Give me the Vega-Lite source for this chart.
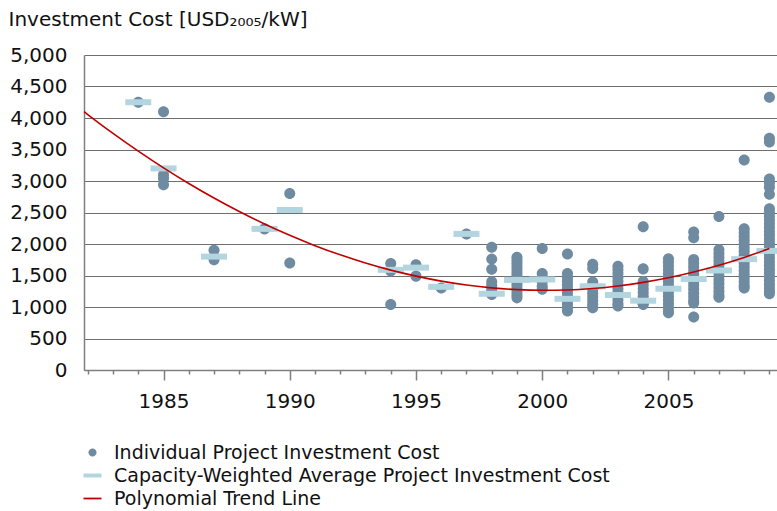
{
  "$schema": "https://vega.github.io/schema/vega-lite/v6.json",
  "width": 693,
  "height": 315,
  "autosize": {"type": "none"},
  "padding": {"left": 84, "top": 55, "right": 0, "bottom": 141},
  "background": "white",
  "config": {
    "font": "DejaVu Sans",
    "view": {"stroke": null},
    "axis": {"labelFont": "DejaVu Sans", "labelColor": "#111111", "labelFontSize": 20, "titleFont": "DejaVu Sans"}
  },
  "datasets": {
    "projects": [
      {"year": 1984, "cost": 4250},
      {"year": 1985, "cost": 4100}, {"year": 1985, "cost": 3100}, {"year": 1985, "cost": 3040}, {"year": 1985, "cost": 2940},
      {"year": 1987, "cost": 1900}, {"year": 1987, "cost": 1750},
      {"year": 1989, "cost": 2240},
      {"year": 1990, "cost": 2800}, {"year": 1990, "cost": 1700},
      {"year": 1994, "cost": 1690}, {"year": 1994, "cost": 1570}, {"year": 1994, "cost": 1040},
      {"year": 1995, "cost": 1670}, {"year": 1995, "cost": 1490},
      {"year": 1996, "cost": 1300},
      {"year": 1997, "cost": 2160},
      {"year": 1998, "cost": 1950}, {"year": 1998, "cost": 1760}, {"year": 1998, "cost": 1600}, {"year": 1998, "cost": 1400}, {"year": 1998, "cost": 1340}, {"year": 1998, "cost": 1280}, {"year": 1998, "cost": 1230}, {"year": 1998, "cost": 1200},
      {"year": 1999, "cost": 1790}, {"year": 1999, "cost": 1740}, {"year": 1999, "cost": 1690}, {"year": 1999, "cost": 1640}, {"year": 1999, "cost": 1590}, {"year": 1999, "cost": 1540}, {"year": 1999, "cost": 1490}, {"year": 1999, "cost": 1440}, {"year": 1999, "cost": 1390}, {"year": 1999, "cost": 1340}, {"year": 1999, "cost": 1290}, {"year": 1999, "cost": 1240}, {"year": 1999, "cost": 1190}, {"year": 1999, "cost": 1145},
      {"year": 2000, "cost": 1930}, {"year": 2000, "cost": 1530}, {"year": 2000, "cost": 1470}, {"year": 2000, "cost": 1400}, {"year": 2000, "cost": 1330}, {"year": 2000, "cost": 1280},
      {"year": 2001, "cost": 1840}, {"year": 2001, "cost": 1530}, {"year": 2001, "cost": 1470}, {"year": 2001, "cost": 1410}, {"year": 2001, "cost": 1350}, {"year": 2001, "cost": 1290}, {"year": 2001, "cost": 1230}, {"year": 2001, "cost": 1170}, {"year": 2001, "cost": 1110}, {"year": 2001, "cost": 1050}, {"year": 2001, "cost": 990}, {"year": 2001, "cost": 935},
      {"year": 2002, "cost": 1680}, {"year": 2002, "cost": 1610}, {"year": 2002, "cost": 1395}, {"year": 2002, "cost": 1340}, {"year": 2002, "cost": 1280}, {"year": 2002, "cost": 1220}, {"year": 2002, "cost": 1160}, {"year": 2002, "cost": 1100}, {"year": 2002, "cost": 1040}, {"year": 2002, "cost": 990},
      {"year": 2003, "cost": 1645}, {"year": 2003, "cost": 1590}, {"year": 2003, "cost": 1530}, {"year": 2003, "cost": 1470}, {"year": 2003, "cost": 1410}, {"year": 2003, "cost": 1350}, {"year": 2003, "cost": 1290}, {"year": 2003, "cost": 1230}, {"year": 2003, "cost": 1170}, {"year": 2003, "cost": 1110}, {"year": 2003, "cost": 1050}, {"year": 2003, "cost": 1015},
      {"year": 2004, "cost": 2275}, {"year": 2004, "cost": 1605}, {"year": 2004, "cost": 1405}, {"year": 2004, "cost": 1350}, {"year": 2004, "cost": 1290}, {"year": 2004, "cost": 1230}, {"year": 2004, "cost": 1170}, {"year": 2004, "cost": 1110}, {"year": 2004, "cost": 1050}, {"year": 2004, "cost": 1040},
      {"year": 2005, "cost": 1765}, {"year": 2005, "cost": 1710}, {"year": 2005, "cost": 1650}, {"year": 2005, "cost": 1590}, {"year": 2005, "cost": 1530}, {"year": 2005, "cost": 1470}, {"year": 2005, "cost": 1410}, {"year": 2005, "cost": 1350}, {"year": 2005, "cost": 1290}, {"year": 2005, "cost": 1230}, {"year": 2005, "cost": 1170}, {"year": 2005, "cost": 1110}, {"year": 2005, "cost": 1050}, {"year": 2005, "cost": 990}, {"year": 2005, "cost": 930}, {"year": 2005, "cost": 910},
      {"year": 2006, "cost": 2190}, {"year": 2006, "cost": 2100}, {"year": 2006, "cost": 1755}, {"year": 2006, "cost": 1700}, {"year": 2006, "cost": 1640}, {"year": 2006, "cost": 1580}, {"year": 2006, "cost": 1520}, {"year": 2006, "cost": 1460}, {"year": 2006, "cost": 1400}, {"year": 2006, "cost": 1340}, {"year": 2006, "cost": 1280}, {"year": 2006, "cost": 1220}, {"year": 2006, "cost": 1160}, {"year": 2006, "cost": 1100}, {"year": 2006, "cost": 1065}, {"year": 2006, "cost": 840},
      {"year": 2007, "cost": 2435}, {"year": 2007, "cost": 1910}, {"year": 2007, "cost": 1850}, {"year": 2007, "cost": 1790}, {"year": 2007, "cost": 1730}, {"year": 2007, "cost": 1670}, {"year": 2007, "cost": 1610}, {"year": 2007, "cost": 1550}, {"year": 2007, "cost": 1490}, {"year": 2007, "cost": 1430}, {"year": 2007, "cost": 1370}, {"year": 2007, "cost": 1310}, {"year": 2007, "cost": 1250}, {"year": 2007, "cost": 1190}, {"year": 2007, "cost": 1155},
      {"year": 2008, "cost": 3335}, {"year": 2008, "cost": 2240}, {"year": 2008, "cost": 2180}, {"year": 2008, "cost": 2120}, {"year": 2008, "cost": 2060}, {"year": 2008, "cost": 2000}, {"year": 2008, "cost": 1940}, {"year": 2008, "cost": 1880}, {"year": 2008, "cost": 1820}, {"year": 2008, "cost": 1760}, {"year": 2008, "cost": 1700}, {"year": 2008, "cost": 1640}, {"year": 2008, "cost": 1580}, {"year": 2008, "cost": 1520}, {"year": 2008, "cost": 1460}, {"year": 2008, "cost": 1400}, {"year": 2008, "cost": 1340}, {"year": 2008, "cost": 1300},
      {"year": 2009, "cost": 4330}, {"year": 2009, "cost": 3680}, {"year": 2009, "cost": 3620}, {"year": 2009, "cost": 3030}, {"year": 2009, "cost": 2970}, {"year": 2009, "cost": 2900}, {"year": 2009, "cost": 2790}, {"year": 2009, "cost": 2560}, {"year": 2009, "cost": 2500}, {"year": 2009, "cost": 2440}, {"year": 2009, "cost": 2380}, {"year": 2009, "cost": 2320}, {"year": 2009, "cost": 2260}, {"year": 2009, "cost": 2200}, {"year": 2009, "cost": 2140}, {"year": 2009, "cost": 2080}, {"year": 2009, "cost": 2020}, {"year": 2009, "cost": 1960}, {"year": 2009, "cost": 1900}, {"year": 2009, "cost": 1840}, {"year": 2009, "cost": 1780}, {"year": 2009, "cost": 1720}, {"year": 2009, "cost": 1660}, {"year": 2009, "cost": 1600}, {"year": 2009, "cost": 1540}, {"year": 2009, "cost": 1480}, {"year": 2009, "cost": 1420}, {"year": 2009, "cost": 1360}, {"year": 2009, "cost": 1300}, {"year": 2009, "cost": 1250}, {"year": 2009, "cost": 1210}
    ],
    "averages": [
      {"year": 1984, "cost": 4250}, {"year": 1985, "cost": 3200}, {"year": 1987, "cost": 1800}, {"year": 1989, "cost": 2240}, {"year": 1990, "cost": 2540},
      {"year": 1994, "cost": 1590}, {"year": 1995, "cost": 1625}, {"year": 1996, "cost": 1320}, {"year": 1997, "cost": 2160}, {"year": 1998, "cost": 1210},
      {"year": 1999, "cost": 1430}, {"year": 2000, "cost": 1437}, {"year": 2001, "cost": 1130}, {"year": 2002, "cost": 1330}, {"year": 2003, "cost": 1190},
      {"year": 2004, "cost": 1100}, {"year": 2005, "cost": 1290}, {"year": 2006, "cost": 1445}, {"year": 2007, "cost": 1580}, {"year": 2008, "cost": 1760}, {"year": 2009, "cost": 1890}
    ],
    "trend": [
      {"year": 1981.85, "cost": 4102}, {"year": 1982, "cost": 4055}, {"year": 1983, "cost": 3756}, {"year": 1984, "cost": 3474}, {"year": 1985, "cost": 3209},
      {"year": 1986, "cost": 2961}, {"year": 1987, "cost": 2730}, {"year": 1988, "cost": 2515}, {"year": 1989, "cost": 2318}, {"year": 1990, "cost": 2138},
      {"year": 1991, "cost": 1974}, {"year": 1992, "cost": 1828}, {"year": 1993, "cost": 1698}, {"year": 1994, "cost": 1585}, {"year": 1995, "cost": 1490},
      {"year": 1996, "cost": 1411}, {"year": 1997, "cost": 1349}, {"year": 1998, "cost": 1304}, {"year": 1999, "cost": 1276}, {"year": 2000, "cost": 1265},
      {"year": 2001, "cost": 1271}, {"year": 2002, "cost": 1294}, {"year": 2003, "cost": 1334}, {"year": 2004, "cost": 1391}, {"year": 2005, "cost": 1464},
      {"year": 2006, "cost": 1555}, {"year": 2007, "cost": 1662}, {"year": 2008, "cost": 1787}, {"year": 2009, "cost": 1928}
    ]
  },
  "resolve": {"axis": {"x": "independent", "y": "independent"}},
  "layer": [
    {
      "data": {"name": "projects"},
      "mark": {"type": "point", "filled": true, "opacity": 1, "size": 600, "strokeWidth": 0},
      "encoding": {
        "x": {
          "field": "year", "type": "quantitative",
          "scale": {"domain": [1981.85, 2009.3], "nice": false, "zero": false},
          "axis": {
            "values": [1985, 1990, 1995, 2000, 2005], "format": "d", "title": null,
            "grid": false, "tickSize": 10, "tickColor": "#7f7f7f", "tickWidth": 1.5,
            "domainColor": "#7f7f7f", "domainWidth": 1.5, "labelPadding": 11, "orient": "bottom"
          }
        },
        "y": {
          "field": "cost", "type": "quantitative",
          "scale": {"domain": [0, 5000], "nice": false, "zero": true},
          "axis": {
            "orient": "left",
            "values": [0, 500, 1000, 1500, 2000, 2500, 3000, 3500, 4000, 4500, 5000],
            "format": ",.0f", "grid": true, "gridColor": "#6e6e6e", "gridWidth": 1,
            "ticks": false, "domain": true, "domainColor": "#7f7f7f", "domainWidth": 1.5,
            "labelPadding": 17, "labelOverlap": false,
            "title": "Investment Cost [USD₂₀₀₅/kW]", "titleAngle": 0, "titleX": -76, "titleY": -30,
            "titleAlign": "left", "titleBaseline": "alphabetic", "titleFontSize": 20,
            "titleFontWeight": "normal", "titleColor": "#111111"
          }
        },
        "color": {
          "datum": "Individual Project Investment Cost",
          "scale": {
            "domain": ["Individual Project Investment Cost", "Capacity-Weighted Average Project Investment Cost", "Polynomial Trend Line"],
            "range": ["#6f8ba1", "#b2d5df", "#c00000"]
          },
          "legend": {
            "title": null, "orient": "none", "legendX": -1, "legendY": 388, "direction": "vertical",
            "symbolSize": 324, "symbolStrokeWidth": 0, "symbolOpacity": 1,
            "labelFontSize": 19, "labelColor": "#111111", "labelLimit": 700, "labelOffset": 12,
            "rowPadding": 3, "padding": 0
          }
        },
        "shape": {
          "datum": "Individual Project Investment Cost",
          "scale": {
            "domain": ["Individual Project Investment Cost", "Capacity-Weighted Average Project Investment Cost", "Polynomial Trend Line"],
            "range": [
              "M-0.45,0A0.45,0.45,0,1,0,0.45,0A0.45,0.45,0,1,0,-0.45,0Z",
              "M-1,-0.22L1,-0.22L1,0.22L-1,0.22Z",
              "M-1,-0.1L1,-0.1L1,0.1L-1,0.1Z"
            ]
          },
          "legend": {
            "title": null, "orient": "none", "legendX": -1, "legendY": 388, "direction": "vertical",
            "symbolSize": 324, "symbolStrokeWidth": 0, "symbolOpacity": 1,
            "labelFontSize": 19, "labelColor": "#111111", "labelLimit": 700, "labelOffset": 12,
            "rowPadding": 3, "padding": 0
          }
        }
      }
    },
    {
      "data": {"name": "averages"},
      "mark": {"type": "tick", "orient": "horizontal", "color": "#b2d5df", "opacity": 1, "size": 26, "thickness": 6},
      "encoding": {
        "x": {"field": "year", "type": "quantitative", "axis": null},
        "y": {"field": "cost", "type": "quantitative", "axis": null}
      }
    },
    {
      "data": {"name": "trend"},
      "mark": {"type": "line", "color": "#c00000", "strokeWidth": 1.6, "interpolate": "monotone"},
      "encoding": {
        "x": {
          "field": "year", "type": "quantitative",
          "axis": {
            "values": [1982, 1983, 1984, 1986, 1987, 1988, 1989, 1991, 1992, 1993, 1994, 1996, 1997, 1998, 1999, 2001, 2002, 2003, 2004, 2006, 2007, 2008, 2009],
            "labels": false, "domain": false, "grid": false, "title": null, "orient": "bottom",
            "tickSize": 4, "tickColor": "#7f7f7f", "tickWidth": 1.5
          }
        },
        "y": {"field": "cost", "type": "quantitative", "axis": null}
      }
    }
  ]
}
